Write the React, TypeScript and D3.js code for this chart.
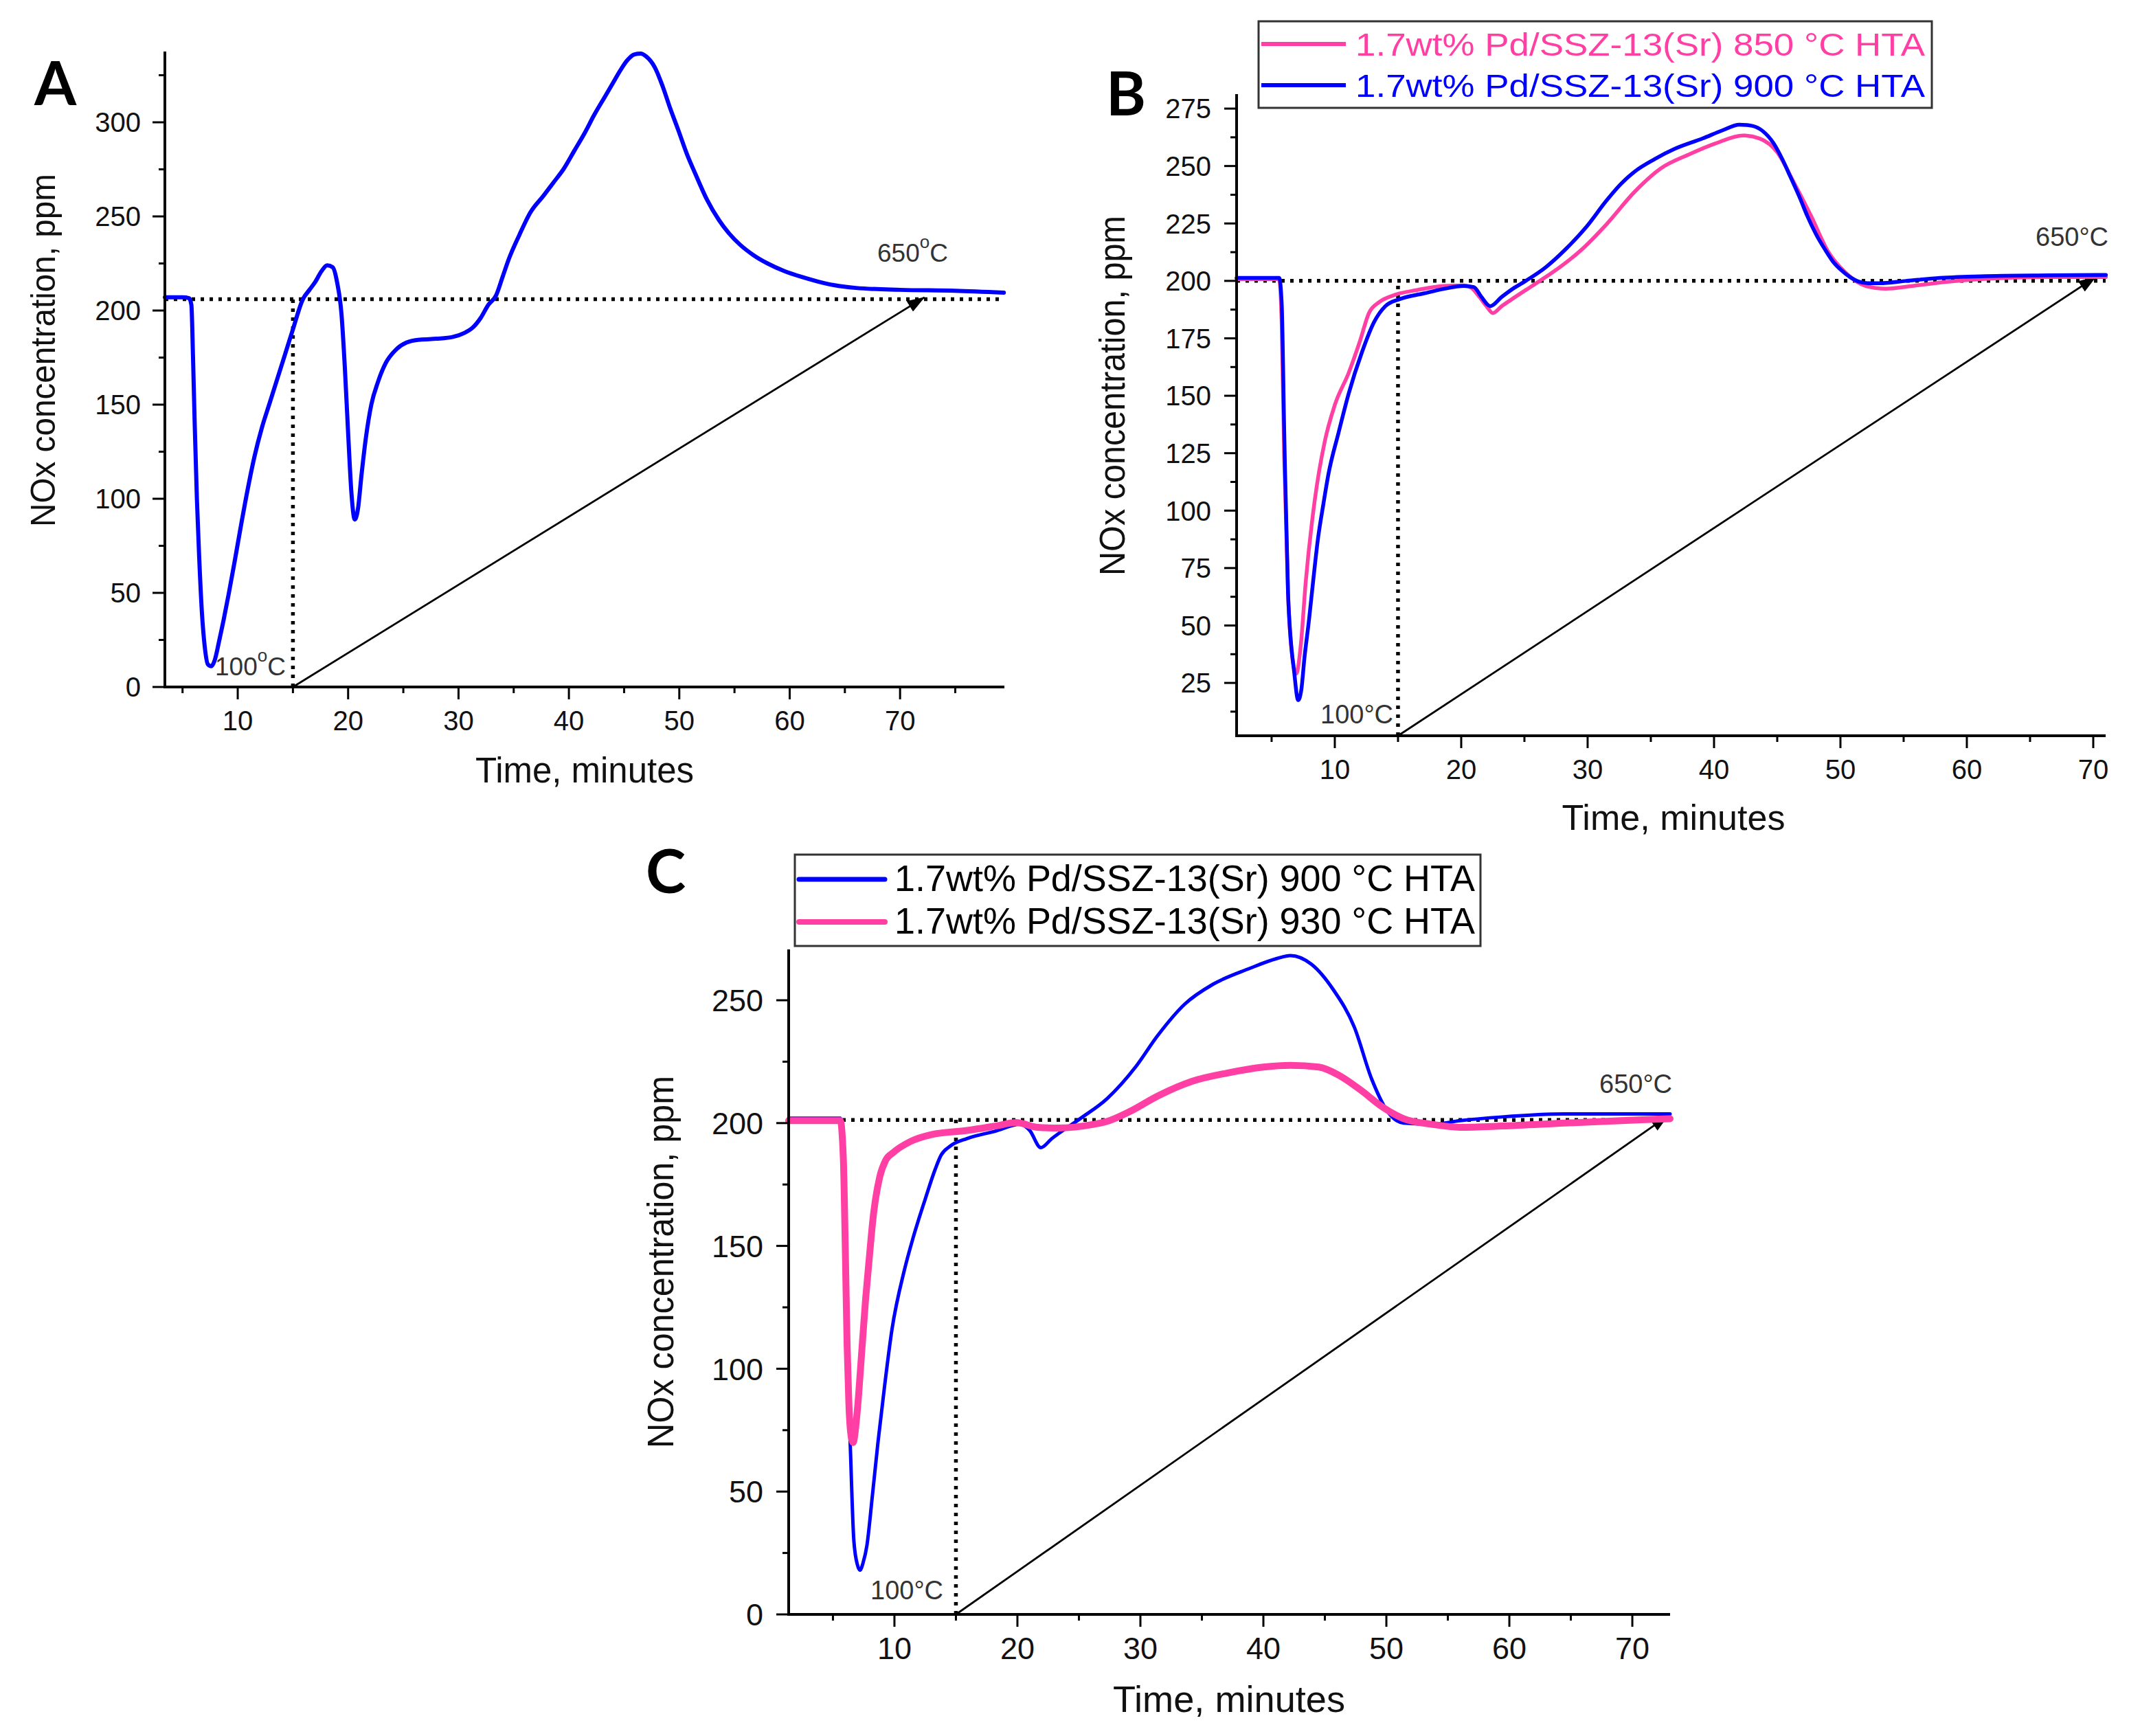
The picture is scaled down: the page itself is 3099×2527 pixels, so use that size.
import React from 'react';
import * as d3 from 'd3';

// ---------- DATA ----------
// Panel A: single catalyst
const A_time = [3.4, 5.0, 5.6, 5.8, 5.95, 6.1, 6.3, 6.5, 6.75, 7.0, 7.3, 7.6, 7.9, 8.3, 8.7, 9.2, 9.7, 10.3, 10.9, 11.5, 12.2, 12.9, 13.6, 14.3, 15.0, 15.9, 16.5, 17.0, 17.6, 18.1, 18.6, 19.0, 19.4, 19.7, 20.0, 20.3, 20.6, 20.9, 21.2, 21.6, 22.1, 22.7, 23.4, 24.3, 25.3, 26.5, 28.0, 29.5, 30.5, 31.3, 32.0, 32.7, 33.4, 34.0, 34.6, 35.5, 36.5, 37.7, 38.6, 39.5, 40.5, 41.4, 42.3, 43.2, 44.0, 44.7, 45.3, 45.9, 46.5, 47.0, 47.8, 48.5, 49.2, 49.9, 50.7, 51.5, 52.5, 53.6, 54.5, 55.5, 56.7, 58.0, 59.5, 61.0, 62.5, 64.0, 66.0, 70.0, 75.0, 79.4];
const A_nox = [207, 207, 206.5, 203, 175, 140, 100, 70, 40, 22, 12, 11, 14, 24, 35, 50, 66, 86, 105, 122, 138, 151, 164, 177, 190, 206, 211, 215, 221, 224, 223, 215, 198, 170, 135, 103, 89, 95, 112, 132, 150, 162, 172, 179, 183, 184.5, 185, 186, 188, 191, 196, 203, 208, 218, 228, 240, 252, 261, 268, 275, 285, 294, 304, 313, 321, 328, 333, 336, 336.5, 335, 329, 319, 307, 296, 283, 272, 259, 248, 241, 235, 229.5, 225, 221, 218, 215.5, 213.5, 212, 211, 210.5, 209.5];

// Panel B: 850 °C HTA (pink) and 900 °C HTA (blue)
const B850_time = [2.23, 5.6, 5.8, 6.0, 6.3, 6.6, 6.95, 7.3, 7.7, 8.4, 9.2, 10.0, 11.1, 12.0, 12.7, 13.5, 14.8, 16.5, 18.6, 20.2, 20.8, 21.3, 22.0, 22.5, 23.2, 24.0, 25.6, 27.2, 29.4, 31.5, 33.7, 35.8, 38.0, 40.1, 42.3, 43.6, 45.0, 46.3, 47.7, 49.0, 50.4, 52.0, 53.6, 55.7, 58.4, 61.1, 66.5, 71.0];
const B850_nox = [200.8, 200.8, 181, 123, 64, 38, 29, 41, 69, 104, 130, 146, 160, 174, 186, 190.7, 194, 196, 197.8, 198, 197, 194, 189, 186, 189, 192, 197.8, 203.6, 213, 224.7, 238.7, 249, 255, 259.8, 263.3, 262, 256, 243, 228, 213, 203.6, 197.8, 196.6, 197.8, 199.6, 200.8, 201.7, 201.7];
const B900_time = [2.23, 5.6, 5.8, 6.0, 6.3, 6.8, 7.1, 7.35, 7.6, 7.95, 8.3, 8.65, 9.1, 9.5, 10.3, 11.1, 12.15, 13.1, 14.0, 15.1, 17.0, 18.6, 20.2, 21.0, 21.6, 22.3, 23.2, 24.2, 25.1, 26.7, 28.3, 29.9, 31.5, 32.6, 33.7, 35.3, 36.9, 39.1, 40.7, 42.0, 43.0, 43.9, 44.7, 45.4, 46.1, 46.8, 47.4, 48.1, 48.8, 49.4, 50.1, 50.8, 51.4, 52.2, 53.1, 55.2, 57.9, 61.1, 66.5, 71.0];
const B900_nox = [201.3, 201.3, 190, 134, 64, 29, 17.5, 22, 36, 52, 70, 87, 103, 116, 134, 151, 169, 182, 189, 192, 194.5, 196.5, 197.8, 197.3, 193, 189, 193, 197, 200, 206, 214, 223.5, 235, 242, 247.5, 253, 257.5, 262, 265.6, 268, 267.5, 265, 260, 253, 244.6, 236, 228, 220, 213.5, 208.5, 204.5, 201.5, 199.8, 199, 199, 200, 201.3, 202, 202.4, 202.6];

// Panel C: 900 °C HTA (blue) and 930 °C HTA (pink)
const C900_time = [1.4, 5.6, 5.75, 5.95, 6.15, 6.4, 6.7, 7.0, 7.2, 7.45, 7.76, 8.2, 8.66, 9.2, 9.8, 10.8, 11.5, 12.5, 13.3, 13.8, 14.5, 15.9, 18.2, 20.2, 21.0, 21.9, 22.8, 25.1, 27.3, 29.6, 31.4, 33.6, 35.9, 38.8, 41.1, 42.2, 43.9, 45.7, 47.4, 48.8, 50.2, 51.4, 53.7, 56.0, 59.4, 64.5, 73.07];
const C900_nox = [202, 202, 190, 150, 105, 70, 30, 20, 18, 21, 28, 48, 70, 93, 116, 140, 153, 169, 181, 187, 190.5, 193.7, 196.7, 199.5, 197, 190, 193.7, 201.8, 210, 222.8, 235.6, 248.4, 256.5, 262.8, 267, 268.2, 264.7, 254.2, 239, 218, 204, 200, 199.5, 201, 202.5, 203.7, 203.7];
const C930_time = [1.4, 5.6, 5.85, 6.0, 6.15, 6.3, 6.5, 6.65, 6.8, 7.0, 7.3, 7.65, 7.9, 8.3, 8.8, 9.3, 9.9, 11.3, 13.0, 15.9, 18.2, 19.9, 21.6, 23.3, 26.2, 27.3, 29.1, 31.4, 34.2, 37.1, 40.0, 42.2, 44.5, 46.2, 47.9, 49.7, 51.4, 53.7, 56.0, 59.4, 64.5, 69.1, 73.07];
const C930_nox = [201, 201, 185, 150, 110, 85, 72, 70, 74, 84, 104, 128, 142, 163, 178, 185, 188, 192.5, 195.3, 197, 198.8, 200.2, 198.3, 198, 199.5, 200.7, 204.6, 211, 217, 220.4, 222.8, 223.5, 222.8, 219.3, 213.5, 206.5, 201.8, 199.5, 198.3, 198.8, 200, 201, 201.8];

// Tick values
const X_MAJOR = [10, 20, 30, 40, 50, 60, 70];
const A_Y_MAJOR = [0, 50, 100, 150, 200, 250, 300];
const B_Y_MAJOR = [25, 50, 75, 100, 125, 150, 175, 200, 225, 250, 275];
const C_Y_MAJOR = [0, 50, 100, 150, 200, 250];

// Reference guides: baseline level, vertical guide time & top, ramp arrow start/end (time, ppm)
const A_GUIDE = { level: 206, t: 15, vTop: 206, from: [15, 0], to: [72.2, 207] };
const B_GUIDE = { level: 200, t: 15, vTop: 200, from: [15, 2], to: [70.2, 201.7] };
const C_GUIDE = { level: 201.3, t: 15, vTop: 203, from: [15, 0], to: [72.9, 203] };

const LEGEND_B = ['1.7wt% Pd/SSZ-13(Sr) 850 °C HTA', '1.7wt% Pd/SSZ-13(Sr) 900 °C HTA'];
const LEGEND_C = ['1.7wt% Pd/SSZ-13(Sr) 900 °C HTA', '1.7wt% Pd/SSZ-13(Sr) 930 °C HTA'];

const BLUE = '#0000ff';
const PINK = '#ff3fa4';
const FONT = "'Liberation Sans', Arial, Helvetica, sans-serif";
const LABEL_FONT = "Lato, 'Open Sans', sans-serif";
const ANN = '#333333';

type Series = { t: number[]; v: number[]; color: string; width: number };

type PanelProps = {
  frame: { left: number; right: number; top: number; bottom: number };
  xDomain: [number, number];
  yDomain: [number, number];
  yMajor: number[];
  yMinorStep: number;
  yMinorStart: number;
  tickFont: number;
  yLabelGap: number;
  xLabelDy: number;
  series: Series[];
  guide: { level: number; t: number; vTop: number; from: number[]; to: number[] };
};

function Panel(p: PanelProps) {
  const { frame } = p;
  const x = d3.scaleLinear().domain(p.xDomain).range([frame.left, frame.right]);
  const y = d3.scaleLinear().domain(p.yDomain).range([frame.bottom, frame.top]);
  const xMinor = d3.range(5, 80, 10).filter((v) => v >= p.xDomain[0] && v <= p.xDomain[1]);
  const yMinor = d3.range(p.yMinorStart, p.yDomain[1] + 0.001, p.yMinorStep).filter((v) => v >= p.yDomain[0]);
  const xMaj = X_MAJOR.filter((v) => v >= p.xDomain[0] && v <= p.xDomain[1]);
  const g = p.guide;
  const lineGen = d3.line<[number, number]>().curve(d3.curveMonotoneX);
  return (
    <g>
      {/* guides */}
      <line x1={x(p.xDomain[0])} x2={x(p.xDomain[1])} y1={y(g.level)} y2={y(g.level)} stroke="#000" strokeWidth={5.5} strokeDasharray="5 8" />
      <line x1={x(g.t)} x2={x(g.t)} y1={y(p.yDomain[0])} y2={y(g.vTop)} stroke="#000" strokeWidth={5.5} strokeDasharray="5 8" />
      <line x1={x(g.from[0])} y1={y(g.from[1])} x2={x(g.to[0])} y2={y(g.to[1])} stroke="#000" strokeWidth={2.8} markerEnd="url(#arrowhead)" />
      {/* series */}
      {p.series.map((s, k) => {
        const pts: [number, number][] = s.t.map((t, i) => [x(t), y(s.v[i])]);
        return <path key={k} d={lineGen(pts) || ''} fill="none" stroke={s.color} strokeWidth={s.width} strokeLinejoin="round" strokeLinecap="round" />;
      })}
      {/* axes */}
      <line x1={frame.left} x2={frame.right} y1={frame.bottom} y2={frame.bottom} stroke="#000" strokeWidth={4} />
      <line x1={frame.left} x2={frame.left} y1={frame.bottom + 2} y2={frame.top} stroke="#000" strokeWidth={4} />
      {xMaj.map((v) => (
        <line key={'xm' + v} x1={x(v)} x2={x(v)} y1={frame.bottom} y2={frame.bottom + 18} stroke="#000" strokeWidth={3} />
      ))}
      {xMinor.map((v) => (
        <line key={'xn' + v} x1={x(v)} x2={x(v)} y1={frame.bottom} y2={frame.bottom + 9} stroke="#000" strokeWidth={3} />
      ))}
      {p.yMajor.map((v) => (
        <line key={'ym' + v} x1={frame.left - 18} x2={frame.left} y1={y(v)} y2={y(v)} stroke="#000" strokeWidth={3} />
      ))}
      {yMinor.map((v) => (
        <line key={'yn' + v} x1={frame.left - 9} x2={frame.left} y1={y(v)} y2={y(v)} stroke="#000" strokeWidth={3} />
      ))}
      {xMaj.map((v) => (
        <text key={'xl' + v} x={x(v)} y={frame.bottom + p.xLabelDy} textAnchor="middle" fontSize={p.tickFont} fontFamily={FONT} fill="#111">
          {v}
        </text>
      ))}
      {p.yMajor.map((v) => (
        <text key={'yl' + v} x={frame.left - p.yLabelGap} y={y(v) + p.tickFont * 0.36} textAnchor="end" fontSize={p.tickFont} fontFamily={FONT} fill="#111">
          {v}
        </text>
      ))}
    </g>
  );
}

function XTitle({ cx, by, fs, len }: { cx: number; by: number; fs: number; len: number }) {
  return (
    <text x={cx} y={by} textAnchor="middle" fontSize={fs} fontFamily={FONT} fill="#111" textLength={len} lengthAdjust="spacingAndGlyphs">
      Time, minutes
    </text>
  );
}

function YTitle({ bx, cy, fs, len }: { bx: number; cy: number; fs: number; len: number }) {
  return (
    <text transform={`translate(${bx},${cy}) rotate(-90)`} textAnchor="middle" fontSize={fs} fontFamily={FONT} fill="#111" textLength={len} lengthAdjust="spacingAndGlyphs">
      NOx concentration, ppm
    </text>
  );
}

function SupDeg({ x, y, num }: { x: number; y: number; num: string }) {
  return (
    <text x={x} y={y} fontSize={37} fontFamily={FONT} fill={ANN}>
      {num}
      <tspan dy={-20} fontSize={26}>o</tspan>
      <tspan dy={20}>C</tspan>
    </text>
  );
}

function Ann({ x, y, s }: { x: number; y: number; s: string }) {
  return (
    <text x={x} y={y} fontSize={38} fontFamily={FONT} fill={ANN}>
      {s}
    </text>
  );
}

export default function App() {
  return (
    <svg width={3099} height={2527} viewBox="0 0 3099 2527" style={{ position: 'absolute', left: 0, top: 0, background: '#fff' }}>
      <defs>
        <marker id="arrowhead" viewBox="0 0 26 18" refX={25} refY={9} markerWidth={26} markerHeight={18} markerUnits="userSpaceOnUse" orient="auto">
          <path d="M0,0 L26,9 L0,18 z" fill="#000" />
        </marker>
      </defs>
      <rect x={0} y={0} width={3099} height={2527} fill="#fff" />

      {/* ---------- Panel A ---------- */}
      <Panel
        frame={{ left: 240, right: 1462, top: 75, bottom: 1000 }}
        xDomain={[3.4, 79.45]}
        yDomain={[0, 337.6]}
        yMajor={A_Y_MAJOR}
        yMinorStart={25}
        yMinorStep={50}
        tickFont={40}
        yLabelGap={35}
        xLabelDy={63}
        series={[{ t: A_time, v: A_nox, color: BLUE, width: 6 }]}
        guide={A_GUIDE}
      />
      <XTitle cx={851} by={1139} fs={51} len={318} />
      <YTitle bx={80} cy={510} fs={50} len={514} />
      <text x={50} y={153} fontSize={88} fontWeight={700} fontFamily={LABEL_FONT} fill="#000">A</text>
      <SupDeg x={313} y={983} num="100" />
      <SupDeg x={1277} y={381} num="650" />

      {/* ---------- Panel B ---------- */}
      <Panel
        frame={{ left: 1800, right: 3065, top: 137, bottom: 1071 }}
        xDomain={[2.23, 70.98]}
        yDomain={[2.0, 281.3]}
        yMajor={B_Y_MAJOR}
        yMinorStart={12.5}
        yMinorStep={25}
        tickFont={40}
        yLabelGap={37}
        xLabelDy={63}
        series={[
          { t: B850_time, v: B850_nox, color: PINK, width: 5.5 },
          { t: B900_time, v: B900_nox, color: BLUE, width: 5.5 },
        ]}
        guide={B_GUIDE}
      />
      <XTitle cx={2436} by={1208} fs={52} len={325} />
      <YTitle bx={1637} cy={576} fs={51} len={524} />
      <text x={1610} y={168} fontSize={88} fontWeight={700} fontFamily={LABEL_FONT} fill="#000">B</text>
      <Ann x={1922} y={1053} s="100°C" />
      <Ann x={2963} y={358} s="650°C" />
      <g>
        <rect x={1832} y={31} width={980} height={126} fill="#fff" stroke="#333" strokeWidth={3} />
        <line x1={1836} x2={1959} y1={64} y2={64} stroke={PINK} strokeWidth={6} />
        <line x1={1836} x2={1959} y1={124} y2={124} stroke={BLUE} strokeWidth={6} />
        <text x={1973} y={81} fontSize={47} fontFamily={FONT} fill={PINK} textLength={829} lengthAdjust="spacingAndGlyphs">{LEGEND_B[0]}</text>
        <text x={1973} y={141} fontSize={47} fontFamily={FONT} fill={BLUE} textLength={829} lengthAdjust="spacingAndGlyphs">{LEGEND_B[1]}</text>
      </g>

      {/* ---------- Panel C ---------- */}
      <Panel
        frame={{ left: 1148, right: 2431, top: 1382, bottom: 2350 }}
        xDomain={[1.4, 73.07]}
        yDomain={[0, 270.7]}
        yMajor={C_Y_MAJOR}
        yMinorStart={25}
        yMinorStep={50}
        tickFont={45}
        yLabelGap={37}
        xLabelDy={65}
        series={[
          { t: C900_time, v: C900_nox, color: BLUE, width: 5 },
          { t: C930_time, v: C930_nox, color: PINK, width: 10 },
        ]}
        guide={C_GUIDE}
      />
      <XTitle cx={1789} by={2492} fs={53} len={338} />
      <YTitle bx={980} cy={1837} fs={53} len={542} />
      <text x={940} y={1300} fontSize={88} fontWeight={700} fontFamily={LABEL_FONT} fill="#000">C</text>
      <Ann x={1267} y={2328} s="100°C" />
      <Ann x={2328} y={1591} s="650°C" />
      <g>
        <rect x={1157} y={1244} width={998} height={133} fill="#fff" stroke="#333" strokeWidth={3} />
        <line x1={1163} x2={1288} y1={1280} y2={1280} stroke={BLUE} strokeWidth={7} strokeLinecap="round" />
        <line x1={1163} x2={1288} y1={1342} y2={1342} stroke={PINK} strokeWidth={8} strokeLinecap="round" />
        <text x={1302} y={1297} fontSize={53} fontFamily={FONT} fill="#000" textLength={845} lengthAdjust="spacingAndGlyphs">{LEGEND_C[0]}</text>
        <text x={1302} y={1359} fontSize={53} fontFamily={FONT} fill="#000" textLength={845} lengthAdjust="spacingAndGlyphs">{LEGEND_C[1]}</text>
      </g>
    </svg>
  );
}
